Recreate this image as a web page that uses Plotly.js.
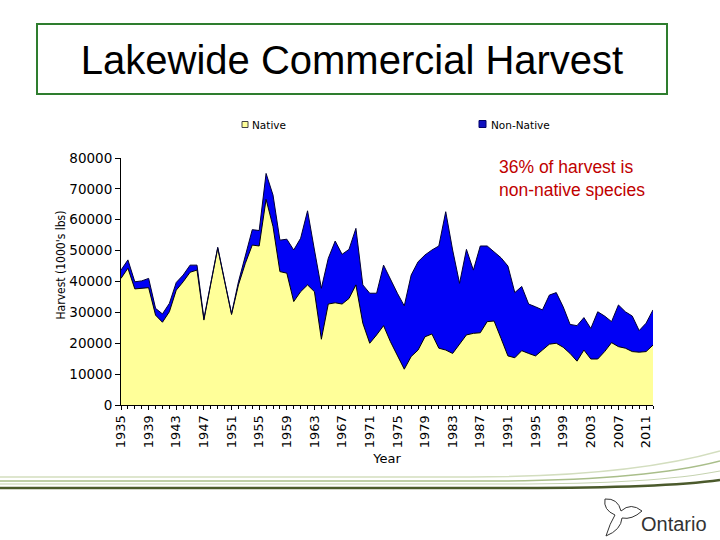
<!DOCTYPE html>
<html>
<head>
<meta charset="utf-8">
<script src="https://cdn.plot.ly/plotly-3.0.1.min.js"></script>
<style>
html,body{margin:0;padding:0;background:#fff;}
#chart{width:720px;height:540px;}
</style>
</head>
<body>
<div id="chart"></div>
<script>
// ---- data ----
const years = [1935,1936,1937,1938,1939,1940,1941,1942,1943,1944,1945,1946,1947,1948,1949,1950,1951,1952,1953,1954,1955,1956,1957,1958,1959,1960,1961,1962,1963,1964,1965,1966,1967,1968,1969,1970,1971,1972,1973,1974,1975,1976,1977,1978,1979,1980,1981,1982,1983,1984,1985,1986,1987,1988,1989,1990,1991,1992,1993,1994,1995,1996,1997,1998,1999,2000,2001,2002,2003,2004,2005,2006,2007,2008,2009,2010,2011,2012];
const native = [41000,44300,37600,37800,38000,29100,26800,30200,37200,39900,43000,43700,27500,39300,50800,40000,29300,38900,45900,51800,51500,66600,57800,43200,42700,33500,36700,38900,36700,21300,32700,33100,32700,34500,38900,26500,20000,22700,25700,20500,16200,11600,15700,17800,22100,23000,18400,17800,16700,19800,22700,23200,23400,27000,27200,21600,15900,15300,17600,16700,15900,17800,19700,20000,18700,16700,14200,17800,14900,14900,17300,20200,18900,18400,17300,17100,17300,19400];
const nonNative = [2700,2700,2300,2400,3000,2200,2700,2700,2500,2200,2300,1600,500,300,300,300,300,1000,2100,5000,5000,8400,10200,10200,11000,16700,17300,24000,13500,16500,14800,20000,16100,15900,18300,12400,16200,13500,19600,20000,20000,20500,26400,28600,26500,27200,33100,44800,33500,19600,27700,20500,28100,24500,22500,26100,29100,21100,20800,16000,15900,13000,15900,16400,13100,9400,11500,10500,9900,15300,11500,6800,13500,11800,11500,7000,9200,11400];
const xTickYears = [1935,1939,1943,1947,1951,1955,1959,1963,1967,1971,1975,1979,1983,1987,1991,1995,1999,2003,2007,2011];
const yTicks = [0,10000,20000,30000,40000,50000,60000,70000,80000];
const seriesNames = ["Native","Non-Native"];
const chartTitle = "Lakewide Commercial Harvest";
const yTitle = "Harvest (1000's lbs)";
const noteText = "36% of harvest is<br>non-native species";

// ---- layout helpers (pixel -> paper) ----
const PL=121, PR=653, PT=158, PB=405;
const px = p => (p-PL)/(PR-PL);
const py = p => (PB-p)/(PB-PT);
function pathPx(s){
  const toks = s.trim().split(/\s+/);
  let out=[], isX=true;
  for(const t of toks){
    if(/^[A-Za-z]$/.test(t)){ out.push(t); isX=true; }
    else { const v=parseFloat(t); out.push((isX?px(v):py(v)).toFixed(5)); isX=!isX; }
  }
  return out.join(' ');
}

const YELLOW='#FFFF99', BLUE='#0000F5';

const traces = [
  {x:years, y:native, name:seriesNames[0], type:'scatter', mode:'lines', stackgroup:'one',
   fillcolor:YELLOW, line:{color:'#000000', width:1}, showlegend:false},
  {x:years, y:nonNative, name:seriesNames[1], type:'scatter', mode:'lines', stackgroup:'one',
   fillcolor:BLUE, line:{color:'#000033', width:1}, showlegend:false}
];

const shapes = [
  // title box
  {type:'rect', xref:'paper', yref:'paper', x0:px(37), x1:px(667), y0:py(94), y1:py(24),
   line:{color:'#2E7D2E', width:2}, fillcolor:'rgba(0,0,0,0)'},
  // legend squares
  {type:'rect', xref:'paper', yref:'paper', x0:px(242), x1:px(248), y0:py(127.5), y1:py(121.5),
   line:{color:'#444', width:1}, fillcolor:YELLOW},
  {type:'rect', xref:'paper', yref:'paper', x0:px(479), x1:px(486), y0:py(127.5), y1:py(120.5),
   line:{color:'#000066', width:1}, fillcolor:'#1010C0'},
  // bottom swoosh lines
  {type:'path', xref:'paper', yref:'paper', path:pathPx('M 0 477 L 470 477 C 580 477 660 468 720 451'),
   line:{color:'#D3DEBF', width:1.5}},
  {type:'path', xref:'paper', yref:'paper', path:pathPx('M 0 481 L 490 481 C 600 481 670 474 720 461'),
   line:{color:'#A9BE8A', width:1.5}},
  {type:'path', xref:'paper', yref:'paper', path:pathPx('M 0 484 L 510 484 C 610 484 680 479 720 471'),
   line:{color:'#C5D3B0', width:1.2}},
  {type:'path', xref:'paper', yref:'paper', path:pathPx('M 0 488 L 520 488 C 620 488 685 485 720 480'),
   line:{color:'#4B5A2C', width:2.5}},
  // trillium outline (logo)
  {type:'path', xref:'paper', yref:'paper',
   path:pathPx('M 605 499 Q 618 498 621 511 Q 631 502 642 511 Q 632 520 622 518 Q 621 530 606 536 Q 610 523 615 515 Q 603 510 605 499 Z'),
   line:{color:'#333333', width:1}, fillcolor:'rgba(0,0,0,0)'}
];

const annotations = [
  {xref:'paper', yref:'paper', x:px(497), y:py(155), xanchor:'left', yanchor:'top', align:'left',
   text:noteText, showarrow:false, font:{family:'Liberation Sans, Arial, sans-serif', size:17.5, color:'#C00000'}},
  {xref:'paper', yref:'paper', x:px(249.5), y:py(124.5), xanchor:'left', yanchor:'middle',
   text:seriesNames[0], showarrow:false, font:{family:'DejaVu Sans, Verdana, sans-serif', size:10.5, color:'#000'}},
  {xref:'paper', yref:'paper', x:px(488.5), y:py(124.5), xanchor:'left', yanchor:'middle',
   text:seriesNames[1], showarrow:false, font:{family:'DejaVu Sans, Verdana, sans-serif', size:10.5, color:'#000'}},
  {xref:'paper', yref:'paper', x:px(60.5), y:py(265), xanchor:'center', yanchor:'middle', textangle:-90,
   text:yTitle, showarrow:false, font:{family:'DejaVu Sans Condensed, DejaVu Sans, sans-serif', size:12, color:'#000'}},
  {xref:'paper', yref:'paper', x:px(639), y:py(524), xanchor:'left', yanchor:'middle',
   text:'Ontario', showarrow:false, font:{family:'Liberation Sans, Arial, sans-serif', size:20, color:'#333'}}
];

const layout = {
  width:720, height:540,
  margin:{l:PL, r:720-PR, t:PT, b:540-PB, pad:0},
  paper_bgcolor:'#ffffff', plot_bgcolor:'#ffffff',
  showlegend:false,
  title:{text:chartTitle, x:352/720, xanchor:'center', xref:'container', y:1-60/540, yanchor:'middle', yref:'container',
         font:{family:'Liberation Sans, Arial, sans-serif', size:40, color:'#000'}},
  xaxis:{range:[1935,2012], tickvals:xTickYears, ticktext:xTickYears.map(String), tickangle:-90,
         ticks:'outside', ticklen:4, tickcolor:'#000', showgrid:false, zeroline:false,
         showline:true, linecolor:'#000', linewidth:1,
         minor:{dtick:1, ticks:'outside', ticklen:3, tickcolor:'#000', showgrid:false},
         tickfont:{family:'DejaVu Sans, Verdana, sans-serif', size:13, color:'#000'},
         title:{text:'Year', standoff:6, font:{family:'DejaVu Sans, Verdana, sans-serif', size:13, color:'#000'}}},
  yaxis:{range:[0,80000], tickvals:yTicks, tickformat:'d', ticks:'outside', ticklen:5, tickcolor:'#000',
         showgrid:false, zeroline:false, showline:true, linecolor:'#000', linewidth:1,
         tickfont:{family:'DejaVu Sans, Verdana, sans-serif', size:13.5, color:'#000'}},
  shapes:shapes,
  annotations:annotations
};

Plotly.newPlot('chart', traces, layout, {staticPlot:true, displayModeBar:false});
</script>
</body>
</html>
